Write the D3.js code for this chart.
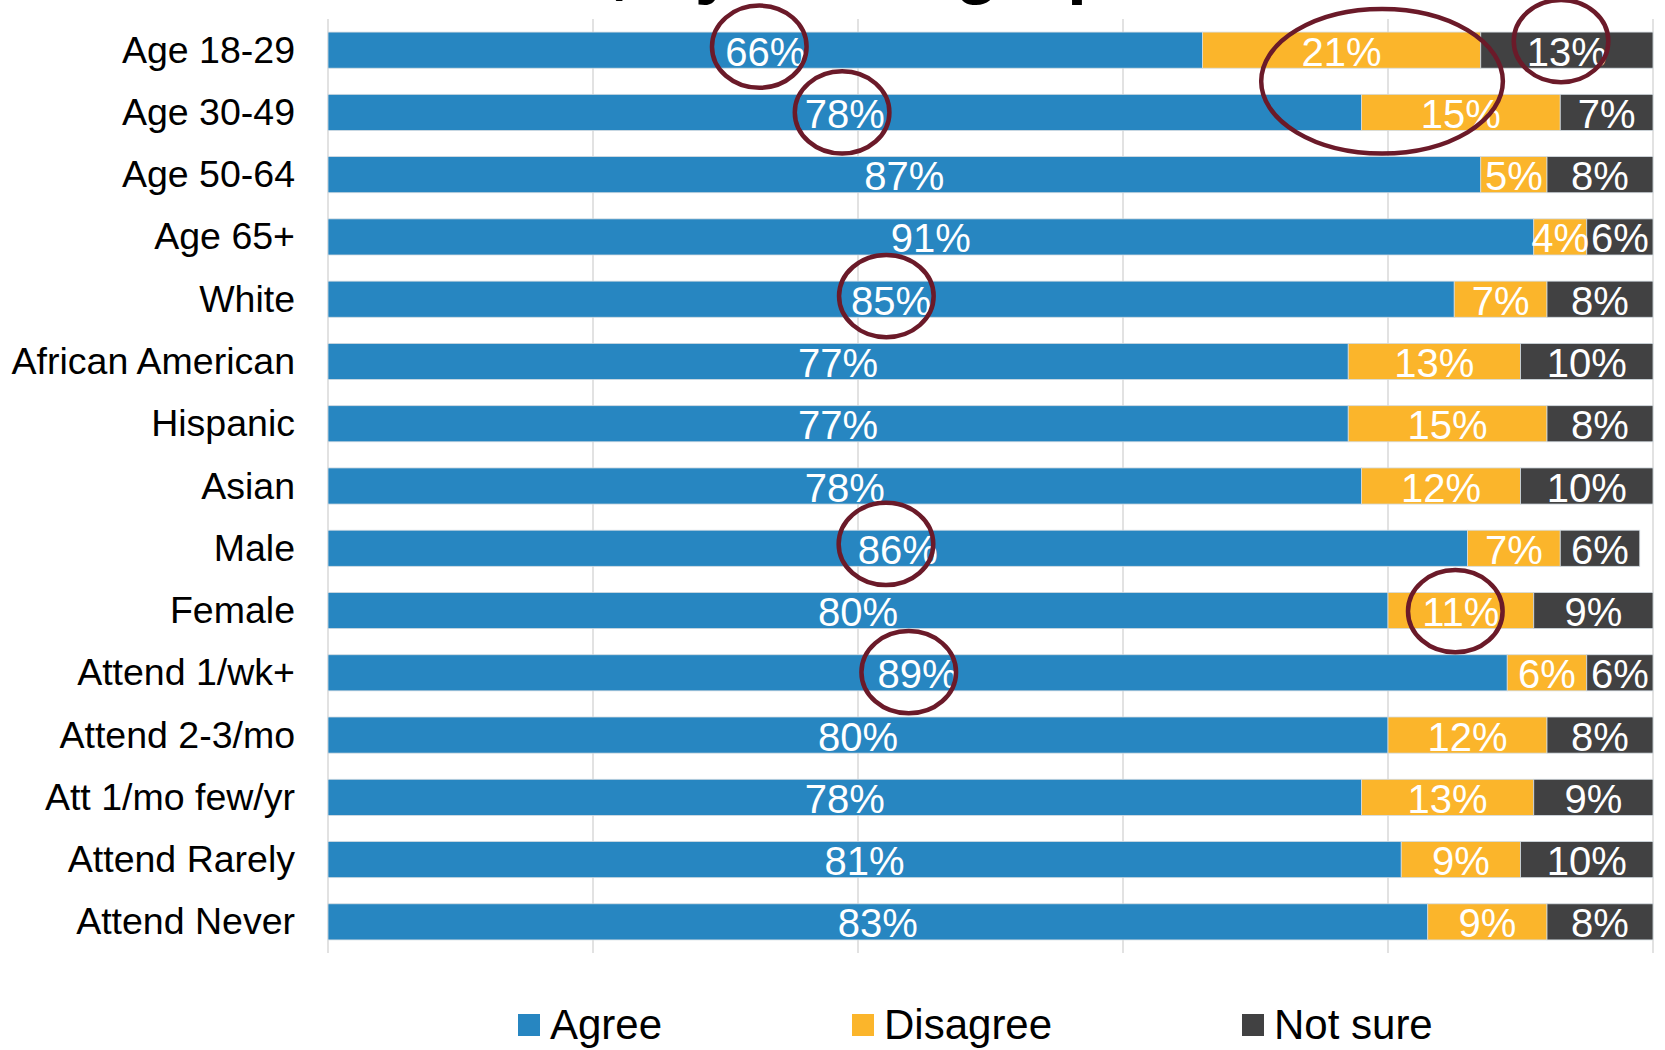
<!DOCTYPE html>
<html>
<head>
<meta charset="utf-8">
<script src="https://cdn.jsdelivr.net/npm/d3@7"></script>
<style>
  html, body { margin: 0; padding: 0; background: #ffffff; }
  svg { display: block; font-family: "Liberation Sans", Arial, sans-serif; }
</style>
</head>
<body>
<svg id="chart" width="1665" height="1050"></svg>
<script>
// ---- data ----
const categories = ["Age 18-29", "Age 30-49", "Age 50-64", "Age 65+", "White", "African American",
  "Hispanic", "Asian", "Male", "Female", "Attend 1/wk+", "Attend 2-3/mo", "Att 1/mo few/yr",
  "Attend Rarely", "Attend Never"];
const agree    = [66, 78, 87, 91, 85, 77, 77, 78, 86, 80, 89, 80, 78, 81, 83];
const disagree = [21, 15,  5,  4,  7, 13, 15, 12,  7, 11,  6, 12, 13,  9,  9];
const notSure  = [13,  7,  8,  6,  8, 10,  8, 10,  6,  9,  6,  8,  9, 10,  8];
const seriesNames = ["Agree", "Disagree", "Not sure"];
const xTicks = [0, 20, 40, 60, 80, 100];
const titleText = "Views, by Demographic";
// annotation ellipses, in data units: x in percent, row index (fractional), radii in percent / rows
const annotations = [
  { x: 32.55, row: -0.055, rx: 3.57, ry: 0.66 },
  { x: 38.8,  row: 1.0,    rx: 3.57, ry: 0.66 },
  { x: 79.55, row: 0.5,    rx: 9.12, ry: 1.16 },
  { x: 93.06, row: -0.145, rx: 3.57, ry: 0.66 },
  { x: 42.14, row: 3.95,   rx: 3.57, ry: 0.66 },
  { x: 42.11, row: 7.93,   rx: 3.57, ry: 0.66 },
  { x: 85.08, row: 9.01,   rx: 3.57, ry: 0.66 },
  { x: 43.83, row: 9.99,   rx: 3.57, ry: 0.66 }
];

// ---- style ----
const colors = ["#2786C1", "#FBB52B", "#414142"];
const svg = d3.select("#chart");

const x = d3.scaleLinear().domain([0, 100]).range([328, 1653]).clamp(true);
const y = d3.scaleBand().domain(categories).range([19, 953]).paddingInner(0.42).paddingOuter(0.21);
const rowY = i => y(categories[0]) + y.bandwidth() / 2 + i * y.step();

// title (mostly above the visible area, as in the reference)
svg.append("text")
  .attr("x", 408).attr("y", -10)
  .attr("font-size", 72).attr("font-weight", "bold").attr("fill", "#000")
  .text(titleText);

// gridlines
svg.append("g").selectAll("line").data(xTicks).join("line")
  .attr("x1", d => x(d)).attr("x2", d => x(d))
  .attr("y1", 19).attr("y2", 953)
  .attr("stroke", "#d9d9d9").attr("stroke-width", 1.5);

// stacked data
const rows = categories.map((c, i) => ({ cat: c, Agree: agree[i], Disagree: disagree[i], "Not sure": notSure[i] }));
const stack = d3.stack().keys(seriesNames)(rows);

const layers = svg.append("g").selectAll("g").data(stack).join("g")
  .attr("fill", (d, i) => colors[i]);

layers.selectAll("rect").data(d => d).join("rect")
  .attr("x", d => x(d[0]))
  .attr("y", d => y(d.data.cat))
  .attr("width", d => x(d[1]) - x(d[0]))
  .attr("height", y.bandwidth())
  .attr("stroke", "#d3dbe1").attr("stroke-width", 0.8);

// value labels
const labels = svg.append("g").attr("fill", "#fff").attr("font-size", 40).attr("text-anchor", "middle");
stack.forEach(layer => {
  labels.selectAll(null).data(layer).join("text")
    .attr("x", d => (x(d[0]) + x(d[1])) / 2)
    .attr("y", d => y(d.data.cat) + y.bandwidth() / 2 + 15.5)
    .text(d => (d[1] - d[0]) + "%");
});

// category labels
svg.append("g").attr("font-size", 37.5).attr("text-anchor", "end").attr("fill", "#000")
  .selectAll("text").data(categories).join("text")
  .attr("x", 295)
  .attr("y", d => y(d) + y.bandwidth() / 2 + 12.5)
  .text(d => d);

// annotation ellipses
svg.append("g").selectAll("ellipse").data(annotations).join("ellipse")
  .attr("cx", d => x(d.x))
  .attr("cy", d => rowY(d.row))
  .attr("rx", d => x(d.rx) - x(0))
  .attr("ry", d => d.ry * y.step())
  .attr("fill", "none").attr("stroke", "#6b1a29").attr("stroke-width", 4.5);

// legend
const legendX = [518, 852, 1242];
const legend = svg.append("g").selectAll("g").data(seriesNames).join("g")
  .attr("transform", (d, i) => `translate(${legendX[i]},1014)`);
legend.append("rect").attr("width", 22).attr("height", 22).attr("fill", (d, i) => colors[i]);
legend.append("text").attr("x", 32).attr("y", 25).attr("font-size", 42).attr("fill", "#000").text(d => d);
</script>
</body>
</html>
